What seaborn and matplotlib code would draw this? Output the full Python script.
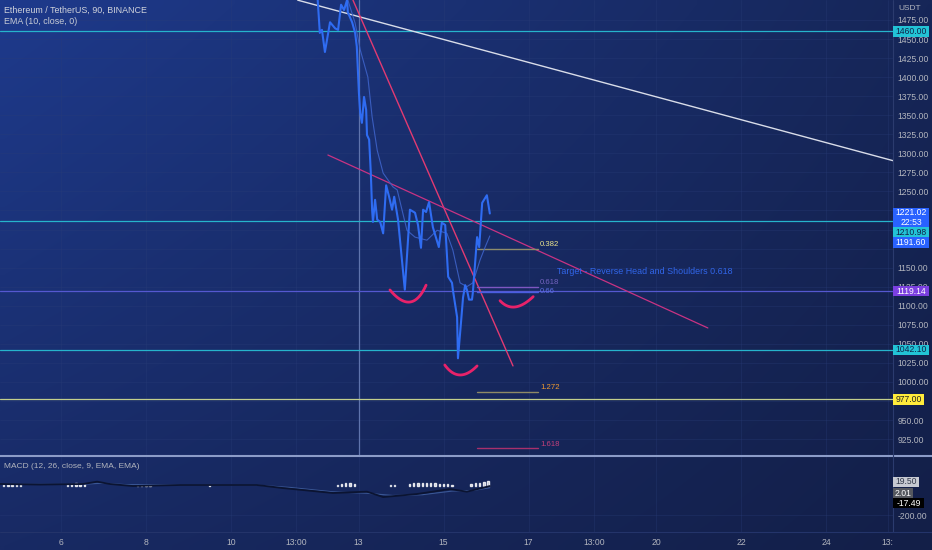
import numpy as np
import pandas as pd
import matplotlib
matplotlib.use("Agg")
import matplotlib.pyplot as plt
import matplotlib.transforms as mtransforms
from matplotlib.patches import Rectangle
import seaborn as sns

# ETH/USDT 90 min closes, x = day of month
price_t = [12.03, 12.09, 12.14, 12.21, 12.33, 12.45, 12.52, 12.59, 12.66, 12.73, 12.75,
           12.85, 12.92, 12.96, 13.01, 13.04, 13.08, 13.13, 13.18, 13.20, 13.25, 13.29,
           13.32, 13.34, 13.39, 13.44, 13.51, 13.58, 13.65, 13.72, 13.79, 13.84, 13.93,
           14.09, 14.21, 14.33, 14.40, 14.47, 14.52, 14.59, 14.66, 14.75, 14.82, 14.89,
           14.96, 15.04, 15.11, 15.20, 15.22, 15.32, 15.34, 15.41, 15.46, 15.51, 15.55,
           15.60, 15.67, 15.69, 15.79, 15.84, 15.91, 16.02, 16.09]
price_v = [1510, 1458, 1462, 1433, 1472, 1464, 1462, 1495, 1488, 1501, 1485,
           1472, 1458, 1440, 1379, 1353, 1340, 1374, 1357, 1324, 1318, 1274,
           1226, 1210, 1239, 1213, 1210, 1195, 1258, 1243, 1226, 1243, 1213,
           1121, 1226, 1222, 1206, 1176, 1226, 1223, 1236, 1203, 1190, 1177,
           1209, 1206, 1138, 1130, 1121, 1085, 1031, 1077, 1111, 1127, 1121,
           1108, 1108, 1117, 1190, 1177, 1235, 1245, 1221.02]

# EMA (10, close, 0)
ema_t = [12.70, 12.92, 13.04, 13.22, 13.32, 13.44, 13.58, 13.81, 13.91, 14.14, 14.33,
         14.61, 14.85, 15.08, 15.22, 15.39, 15.55, 15.69, 15.86, 15.98, 16.09]
ema_v = [1510, 1471, 1436, 1400, 1348, 1304, 1274, 1256, 1252, 1199, 1190,
         1186, 1199, 1195, 1173, 1130, 1125, 1130, 1160, 1177, 1191.60]

# drawn trend lines (two points each)
white_t, white_v = [11.57, 25.60], [1501, 1290]
steep_t, steep_v = [12.87, 16.635], [1501, 1021]
neck_t, neck_v = [12.28, 21.22], [1297.8, 1070.8]

# horizontal levels
level_v = [1460.00, 1210.98, 1042.10]
purple_level = 1119.14
yellow_level = 977.00

# fib extension
fib_names = ["0.382", "0.618", "0.66", "1.272", "1.618"]
fib_v = [1174.5, 1124.6, 1118.0, 986.8, 913.0]
fib_t0, fib_t1 = 15.79, 17.22

# head and shoulders smiles: start, control, end
arcs = [
    [(13.74, 1120.7), (14.26, 1085.9), (14.59, 1127.0)],
    [(15.03, 1022.2), (15.36, 996.7), (15.79, 1021.0)],
    [(16.33, 1106.6), (16.65, 1087.5), (17.11, 1111.9)],
]

# MACD (12, 26, close, 9)
macd_t = [4.56, 5.51, 6.52, 6.85, 7.15, 7.69, 8.80, 10.61, 11.22, 12.40, 13.20,
          13.58, 14.38, 15.15, 15.55, 16.09]
macd_v = [14, 10, 14, 30, 14, 0, 7, 7, -14, -48, -39, -76, -55, -21, -39, 0]
signal_t = [4.56, 6.52, 7.00, 7.50, 10.61, 11.40, 12.40, 13.20, 13.80, 14.50, 15.20,
            15.70, 16.09]
signal_v = [12, 12, 20, 10, 6, -10, -40, -50, -65, -60, -35, -30, -12]
hist_t = [4.65, 4.75, 4.85, 4.95, 5.05, 6.15, 6.25, 6.35, 6.45, 6.55, 7.80, 7.90,
          8.00, 8.10, 9.50, 12.50, 12.60, 12.70, 12.80, 12.90, 13.75, 13.85, 14.20,
          14.30, 14.40, 14.50, 14.60, 14.70, 14.80, 14.90, 15.00, 15.10, 15.20, 15.65,
          15.75, 15.85, 15.95, 16.05]
hist_v = [6, 8, 7, 9, 6, 10, 14, 18, 16, 12, 8, 10, 9, 7, 4, 10, 16, 22, 18, 12, 8, 8,
          12, 18, 22, 24, 20, 22, 18, 16, 14, 12, 8, 12, 18, 22, 28, 34]

# right scale (some ticks sit under the price badges)
price_ticks = [925, 950, 975, 1000, 1025, 1050, 1075, 1100, 1125, 1150, 1175, 1200,
               1225, 1250, 1275, 1300, 1325, 1350, 1375, 1400, 1425, 1450, 1475]
hidden_ticks = [975, 1175, 1200, 1225]
time_ticks = [6, 8, 10, 11.54, 13, 15, 17, 18.54, 20, 22, 24, 25.45]
time_labels = ["6", "8", "10", "13:00", "13", "15", "17", "13:00", "20", "22", "24", "13:"]

# price badges: label, value, colours
badge_labels = ["1460.00", "1221.02\n22:53", "1210.98", "1191.60", "1119.14", "1042.10", "977.00"]
badge_values = [1460.00, 1221.02, 1210.98, 1191.60, 1119.14, 1042.10, 977.00]
badge_bg = ["#22c3d6", "#2962ff", "#22c3d6", "#2962ff", "#7b3fe0", "#22c3d6", "#ffeb3b"]
badge_fg = ["#10244a", "white", "#10244a", "white", "white", "#10244a", "#222222"]
macd_badges = ["19.50", "2.01", "-17.49"]
macd_badge_bg = ["#c7cad2", "#55585f", "#000000"]
macd_badge_fg = ["#333a4a", "white", "white"]

sns.set_theme(style="dark")
plt.rcParams["font.family"] = ["Liberation Sans", "DejaVu Sans"]

W, H = 932, 550
fig = plt.figure(figsize=(W / 100, H / 100), dpi=100)

# background gradient
bg = fig.add_axes([0, 0, 1, 1], zorder=-10)
tl, tr = np.array([30, 58, 140]) / 255, np.array([22, 38, 88]) / 255
bl, br = np.array([24, 42, 100]) / 255, np.array([19, 31, 72]) / 255
u = np.linspace(0, 1, 120)[None, :, None]
v = np.linspace(0, 1, 70)[:, None, None]
img = (1 - v) * ((1 - u) * tl + u * tr) + v * ((1 - u) * bl + u * br)
bg.imshow(img, extent=[0, 1, 0, 1], aspect="auto", interpolation="bilinear")
bg.axis("off")

xmin, xmax = 4.565, 25.576
ymin, ymax = 904.1, 1501.2
axis_w = 893 / W
ax = fig.add_axes([0, 1 - 455 / H, axis_w, 455 / H])
ax2 = fig.add_axes([0, 18 / H, axis_w, 76 / H])
for a in (ax, ax2):
    a.set_facecolor("none")
    a.set_xlim(xmin, xmax)
    for s in a.spines.values():
        s.set_visible(False)
    a.set_xticks(time_ticks)
    a.grid(True, color="#2a3d78", lw=0.5, alpha=0.45)

ax.set_ylim(ymin, ymax)
ax.set_yticks(price_ticks)
ax.set_yticklabels(["" if p in hidden_ticks else f"{p:.2f}" for p in price_ticks])
ax.yaxis.tick_right()
ax.tick_params(axis="y", length=0, pad=3, labelsize=6.2, labelcolor="#b2b5be")
ax.tick_params(axis="x", length=0, labelbottom=False)

# levels
for lv in level_v:
    ax.axhline(lv, color="#26b4cc", lw=0.9, zorder=2)
ax.axhline(purple_level, color="#5558d0", lw=0.9, zorder=2)
ax.axhline(yellow_level, color="#c3cf8c", lw=0.9, zorder=2)
ax.axvline(13, color="#5f74ad", lw=0.9, zorder=1)

# trend lines
ax.plot(white_t, white_v, color="#d9dde9", lw=1.0, zorder=3)
ax.plot(steep_t, steep_v, color="#e23a72", lw=1.0, zorder=3)
ax.plot(neck_t, neck_v, color="#c93383", lw=0.9, zorder=3)

# fib segments
fib_line_col = ["#8e8c6c", "#7e57c2", "#4a5ee0", "#8e8a66", "#a8306c"]
fib_txt_col = ["#ece58e", "#7464c0", "#5a6ee0", "#f09a30", "#c2407a"]
fib_dy = [3.0, 3.0, 0.5, 3.0, 3.0]
for name, fv, lc, tc, dy in zip(fib_names, fib_v, fib_line_col, fib_txt_col, fib_dy):
    ax.plot([fib_t0, fib_t1], [fv, fv], color=lc, lw=1.0, zorder=3)
    ax.annotate(name, (fib_t1, fv), xytext=(1.5, dy), textcoords="offset points",
                ha="left", va="center", fontsize=5.6, color=tc, zorder=4)

ax.text(17.67, 1144.3, "Target - Reverse Head and Shoulders 0.618", color="#3166ea",
        fontsize=6.4, ha="left", va="center", zorder=4)

# price and EMA
sns.lineplot(x=ema_t, y=ema_v, ax=ax, color="#3d62c8", lw=0.8, alpha=0.9,
             estimator=None, sort=False, zorder=4)
sns.lineplot(x=price_t, y=price_v, ax=ax, color="#2f6cf2", lw=1.5,
             estimator=None, sort=False, zorder=5)

# smiles
s = np.linspace(0, 1, 40)
for p0, c, p2 in arcs:
    p0, c, p2 = np.array(p0), np.array(c), np.array(p2)
    pts = ((1 - s) ** 2)[:, None] * p0 + (2 * s * (1 - s))[:, None] * c + (s ** 2)[:, None] * p2
    ax.plot(pts[:, 0], pts[:, 1], color="#e8226a", lw=2.0, solid_capstyle="round", zorder=6)

ax.set_xlim(xmin, xmax)
ax.set_ylim(ymin, ymax)
ax.set_xlabel("")
ax.set_ylabel("")

# MACD pane
ax2.set_ylim(-317, 207)
ax2.bar(hist_t, hist_v, width=0.035, color="#c9cfdd", alpha=0.85, zorder=3)
sns.lineplot(x=signal_t, y=signal_v, ax=ax2, color="#3a5796", lw=0.8,
             estimator=None, sort=False, zorder=4)
sns.lineplot(x=macd_t, y=macd_v, ax=ax2, color="#0b1432", lw=1.3,
             estimator=None, sort=False, zorder=5)
ax2.set_xlim(xmin, xmax)
ax2.set_ylim(-317, 207)
ax2.set_yticks([-200])
ax2.set_yticklabels(["-200.00"])
ax2.yaxis.tick_right()
ax2.tick_params(axis="y", length=0, pad=3, labelsize=6.2, labelcolor="#b2b5be")
ax2.set_xticklabels(time_labels)
ax2.tick_params(axis="x", length=0, pad=4, labelsize=6.2, labelcolor="#b2b5be")
ax2.set_xlabel("")
ax2.set_ylabel("")

ax2.text(4 / 893, 1 - 10 / 76, "MACD (12, 26, close, 9, EMA, EMA)", transform=ax2.transAxes,
         fontsize=6.0, color="#b2b5be", ha="left", va="center")


def badge(ypix, height, label, bc, fc):
    # fixed-size tag on the right scale, ypix measured from the top of the image
    width = 5.2 * len(label.split("\n")[0]) - 0.5
    fig.add_artist(Rectangle((893 / W, 1 - (ypix + height / 2) / H), width / W, height / H,
                             transform=fig.transFigure, fc=bc, ec="none", zorder=20))
    fig.text((893 + width / 2) / W, 1 - ypix / H, label, ha="center", va="center",
             fontsize=6.2, color=fc, linespacing=1.05, zorder=21)


# stacked tags near the last price are pushed apart, as on the chart
stack_shift = [0, 4, 11, 6.5, 0, 0, 0]
for lab, val, bc, fc, sh in zip(badge_labels, badge_values, badge_bg, badge_fg, stack_shift):
    ypix = H - ax.transData.transform((xmin, val))[1] + sh
    badge(ypix, 20 if "\n" in lab else 10.5, lab, bc, fc)

for lab, yp, bc, fc in zip(macd_badges, [482, 493, 503], macd_badge_bg, macd_badge_fg):
    badge(yp, 10, lab, bc, fc)

# legend texts
fig.text(4 / W, 1 - 10 / H, "Ethereum / TetherUS, 90, BINANCE", fontsize=6.4,
         color="#d1d4dc", ha="left", va="center")
fig.text(4 / W, 1 - 21 / H, "EMA (10, close, 0)", fontsize=6.4,
         color="#c8ccd6", ha="left", va="center")
fig.text(898 / W, 1 - 8 / H, "USDT", fontsize=6.0, color="#b2b5be", ha="left", va="center")

# pane separators
fig.add_artist(plt.Line2D([0, 1], [1 - 455.5 / H, 1 - 455.5 / H], color="#8c9cc8", lw=1.5))
fig.add_artist(plt.Line2D([axis_w, axis_w], [18 / H, 1], color="#2b3b6e", lw=0.8))
fig.add_artist(plt.Line2D([0, 1], [18 / H, 18 / H], color="#24346a", lw=0.8))

fig.savefig("out.png", dpi=100)
